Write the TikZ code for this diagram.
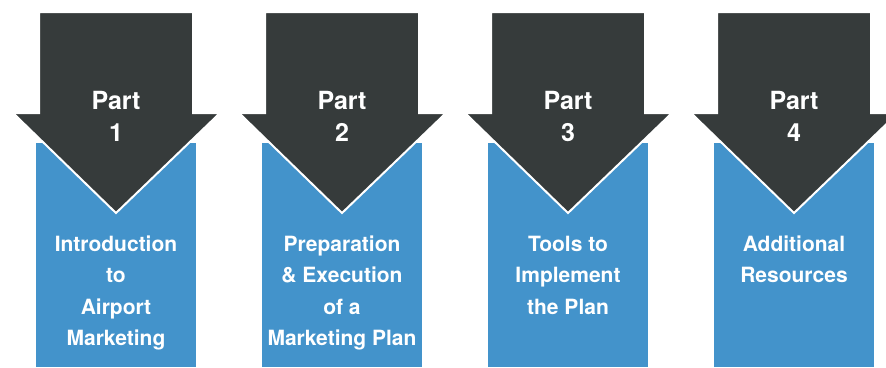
\documentclass[tikz,border=0pt]{standalone}
\usepackage{fontspec}
\setmainfont{TeX Gyre Heros}
\definecolor{arrowgray}{HTML}{363B3B}
\definecolor{partblue}{HTML}{4393CB}

\begin{document}
\begin{tikzpicture}[x=1pt, y=-1pt,
    partbox/.style={fill=partblue},
    partarrow/.style={fill=arrowgray, draw=white, line width=2pt, line join=miter},
    parttitle/.style={text=white, align=center, inner sep=0pt, anchor=north,
      font=\fontsize{25}{32}\selectfont\bfseries},
    partlabel/.style={text=white, align=center, inner sep=0pt, anchor=north,
      font=\fontsize{21}{31.5}\selectfont\bfseries}]
  \useasboundingbox (0,0) rectangle (886,367);
  % blue columns
  \fill[partbox] (36,143) rectangle (196,367);
  \fill[partbox] (262,143) rectangle (422,367);
  \fill[partbox] (488,143) rectangle (648,367);
  \fill[partbox] (714,143) rectangle (874,367);
  % arrows
  \draw[partarrow] (39,12) -- (193,12) -- (193,113) -- (220,113) -- (116,213)
    -- (13,113) -- (39,113) -- cycle;
  \draw[partarrow] (265,12) -- (419,12) -- (419,113) -- (446,113) -- (342,213)
    -- (239,113) -- (265,113) -- cycle;
  \draw[partarrow] (491,12) -- (645,12) -- (645,113) -- (672,113) -- (568,213)
    -- (465,113) -- (491,113) -- cycle;
  \draw[partarrow] (717,12) -- (871,12) -- (871,113) -- (898,113) -- (794,213)
    -- (691,113) -- (717,113) -- cycle;
  % texts
  \node[parttitle] (title1) at (116,87) {\strut Part\\1};
  \node[parttitle] (title2) at (342,87) {\strut Part\\2};
  \node[parttitle] (title3) at (568,87) {\strut Part\\3};
  \node[parttitle] (title4) at (794,87) {\strut Part\\4};
  \node[partlabel] (label1) at (116,229) {\strut Introduction\\to\\Airport\\Marketing};
  \node[partlabel] (label2) at (342,229) {\strut Preparation\\\& Execution\\of a\\Marketing Plan};
  \node[partlabel] (label3) at (568,229) {\strut Tools to\\Implement\\the Plan};
  \node[partlabel] (label4) at (794,229) {\strut Additional\\Resources};
\end{tikzpicture}
\end{document}
